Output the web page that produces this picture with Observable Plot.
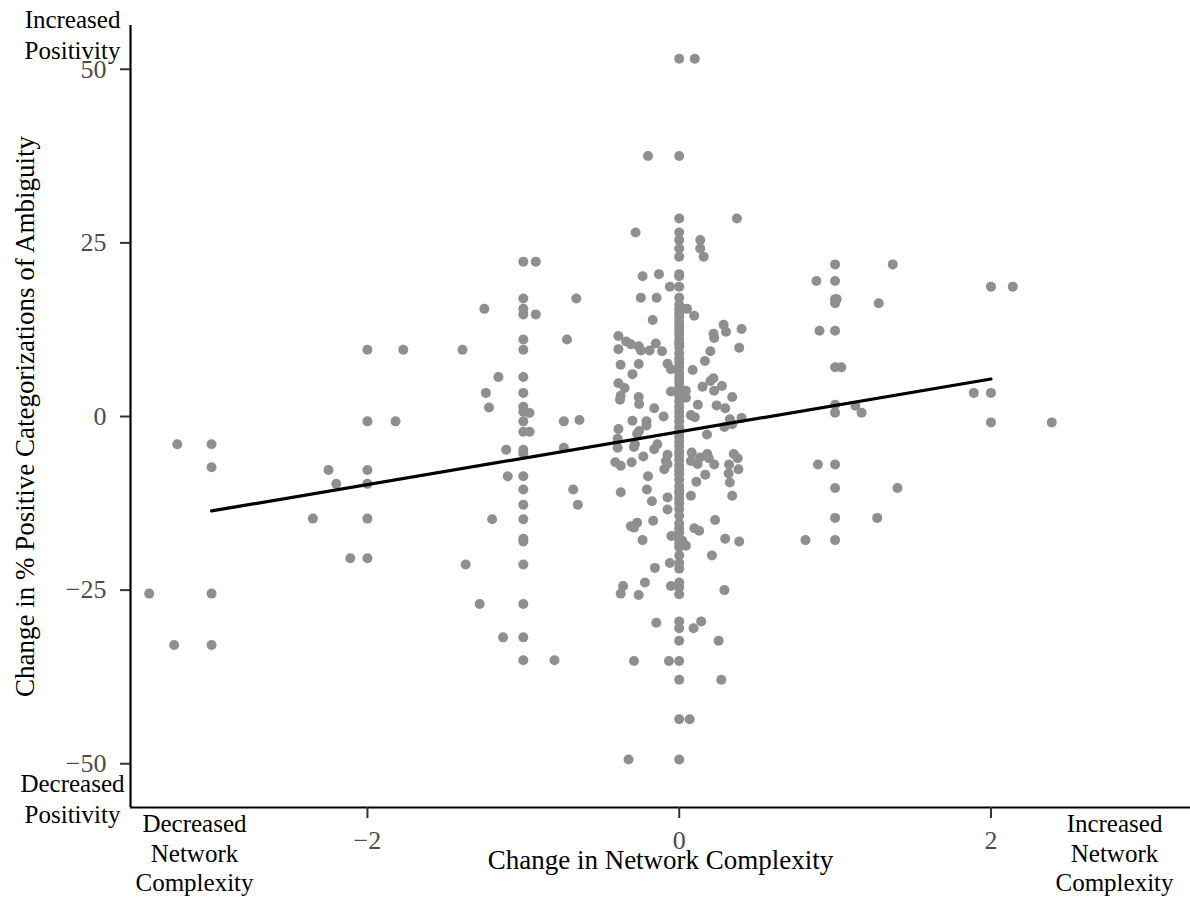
<!DOCTYPE html>
<html>
<head>
<meta charset="utf-8">
<script src="https://cdn.jsdelivr.net/npm/d3@7"></script>
<script src="https://cdn.jsdelivr.net/npm/@observablehq/plot@0.6"></script>
<style>
  html, body { margin: 0; padding: 0; background: #ffffff; }
  #chart svg { display: block; }
</style>
</head>
<body>
<div id="chart"></div>
<script>
// ---------------- data ----------------
const xTicks = [-2, 0, 2];
const yTicks = [-50, -25, 0, 25, 50];
const xDomain = [-3.52, 3.28];
const yDomain = [-56.3, 56.3];

const xTitle = "Change in Network Complexity";
const yTitle = "Change in % Positive Categorizations of Ambiguity";
const noteTop = "Increased\nPositivity";
const noteBottom = "Decreased\nPositivity";
const noteLeft = "Decreased\nNetwork\nComplexity";
const noteRight = "Increased\nNetwork\nComplexity";

// change in network complexity (x) of each participant
const networkChange = [
  // far left
  -3.22, -3.0, -3.0, -2.25, -2.2, -2.0, -2.0, -2.0, -1.82, -2.35, -2.0, -2.11, -2.0, -3.40, -3.0, -3.24, -3.0, -2.0, -1.77,
  // around -1
  -1.0, -0.92, -1.0, -0.66, -1.25, -1.0, -1.0, -0.92, -1.0, -0.72, -1.39, -1.0, -1.16, -1.0, -1.24, -1.0, -1.22, -1.0, -1.0, -0.96,
  -1.0, -0.74, -0.64, -1.0, -0.96, -1.11, -1.0, -1.0, -0.74, -1.10, -1.0, -1.0, -0.68, -1.0, -0.65, -1.2, -1.0, -1.0, -1.0,
  -1.37, -1.0, -1.28, -1.0, -1.13, -1.0, -1.0, -0.80,
  // top centre
  0, 0.10, -0.2, 0, 0, 0.37, -0.28, 0, 0, 0.135, 0, 0.135, 0, 0.157, -0.235, -0.13, 0, 0, -0.06, 0, -0.246, -0.145, 0,
  // around +1 and +2
  1.0, 1.37, 0.88, 1.0, 1.0, 1.01, 1.0, 1.28, 2.0, 2.14, 0.90, 1.0, 1.0, 1.04, 1.0, 1.13, 1.0, 1.17, 1.89, 2.0, 2.0, 2.39,
  0.89, 1.0, 1.0, 1.40, 1.0, 1.27, 0.81, 1.0,
  // centre cloud
  0.096, 0.05, -0.17, 0.285, 0.30, 0.40, 0.22, 0.225, 0.385, 0.20, -0.39, -0.39, -0.34, -0.31, -0.26, -0.245, -0.19, -0.15, -0.11,
  -0.376, -0.30, -0.26, -0.075, -0.053, 0.086, 0.165, 0.20, 0.22, 0.15, 0.224, 0.274, 0.34, -0.39, -0.35, -0.376, -0.38, -0.26,
  -0.257, -0.053, -0.16, -0.10, 0.043, 0.043, 0.12, 0.24, 0.295, 0.075, 0.10, 0.325, 0.40, 0.34, 0.29, -0.39, -0.30, -0.21, -0.21,
  -0.257, -0.27, -0.395, -0.395, -0.29, -0.284, -0.14, -0.16, 0.178, -0.41, -0.375, -0.305, -0.23, -0.075, -0.085, -0.075, -0.096,
  0.08, 0.075, 0.118, 0.133, 0.18, 0.19, 0.225, 0.167, 0.11, 0.35, 0.375, 0.32, 0.38, 0.317, 0.325, 0.34, -0.20, -0.207, -0.175,
  -0.075, -0.075, -0.375, 0.075, -0.31, -0.27, -0.29, -0.167, -0.05, 0.097, 0.128, 0.23, 0.295, 0.385, -0.235, 0.043, 0.02,
  // bottom centre
  0, 0.21, -0.06, 0, 0, -0.156, -0.36, -0.375, -0.22, -0.26, -0.053, 0, 0, 0, 0.29, -0.147, 0, 0, 0.092, 0.141, 0, 0.253,
  -0.29, -0.066, 0, 0, 0.27, 0, 0.067, -0.325, 0,
  // no change column
  0, 0, 0, 0, 0, 0, 0, 0, 0, 0, 0, 0, 0, 0, 0, 0, 0, 0, 0, 0, 0, 0, 0, 0, 0, 0,
  0, 0, 0, 0, 0, 0, 0, 0, 0, 0, 0, 0, 0, 0, 0, 0, 0, 0, 0, 0, 0, 0, 0, 0, 0
];

// change in % positive categorizations (y) of each participant
const positivityChange = [
  // far left
  -4.0, -4.0, -7.3, -7.7, -9.7, -7.7, -9.7, -0.7, -0.7, -14.7, -14.7, -20.4, -20.4, -25.5, -25.5, -32.9, -32.9, 9.6, 9.6,
  // around -1
  22.3, 22.3, 17.0, 17.0, 15.5, 15.5, 14.7, 14.7, 11.1, 11.1, 9.6, 9.6, 5.7, 5.7, 3.4, 3.4, 1.3, 1.4, 0.7, 0.5,
  -0.7, -0.7, -0.5, -2.2, -2.2, -4.8, -4.8, -5.3, -4.5, -8.6, -8.6, -10.5, -10.5, -12.7, -12.7, -14.8, -14.8, -17.6, -18.0,
  -21.3, -21.3, -27.0, -27.0, -31.8, -31.8, -35.1, -35.1,
  // top centre
  51.5, 51.5, 37.5, 37.5, 28.5, 28.5, 26.5, 26.5, 25.4, 25.4, 24.2, 24.2, 23.0, 23.0, 20.2, 20.5, 20.5, 20.2, 18.7, 18.7, 17.1, 17.1, 17.1,
  // around +1 and +2
  21.9, 21.9, 19.5, 19.5, 16.9, 16.9, 16.3, 16.3, 18.7, 18.7, 12.35, 12.35, 7.1, 7.1, 1.7, 1.55, 0.55, 0.55, 3.4, 3.4, -0.85, -0.85,
  -6.9, -6.9, -10.3, -10.3, -14.6, -14.6, -17.8, -17.8,
  // centre cloud
  14.5, 15.5, 13.9, 13.2, 12.2, 12.6, 11.9, 11.3, 9.9, 9.4, 11.6, 9.7, 10.8, 10.4, 10.1, 9.5, 9.5, 10.5, 9.4,
  7.45, 6.1, 7.55, 7.6, 6.8, 6.7, 8.0, 5.1, 5.5, 4.3, 3.7, 4.4, 2.8, 4.8, 4.1, 3.0, 2.4, 2.8,
  1.8, 3.6, 1.2, 0.0, 2.7, 3.7, 1.7, 1.6, 1.2, 0.2, -0.1, -0.4, -0.2, -1.1, -1.5, -1.8, -0.6, -0.7, -1.3,
  -2.1, -2.5, -3.2, -4.5, -4.4, -4.0, -4.0, -4.7, -2.6, -6.6, -7.1, -6.6, -5.75, -5.5, -6.4, -6.85, -7.6,
  -5.2, -6.4, -6.85, -5.9, -5.4, -6.0, -6.9, -8.4, -9.4, -5.4, -6.0, -6.9, -7.6, -8.2, -9.5, -11.4, -8.6, -10.5, -12.2,
  -11.65, -13.4, -10.9, -11.4, -15.8, -15.3, -16.0, -15.0, -17.2, -16.1, -16.45, -14.9, -17.6, -18.0, -17.8, -18.6, -17.9,
  // bottom centre
  -20.0, -20.0, -21.1, -21.1, -21.9, -21.8, -24.4, -25.5, -23.9, -25.7, -24.4, -23.9, -24.6, -25.6, -25.0, -29.7, -29.5, -30.5, -30.5, -29.5, -32.3, -32.3,
  -35.2, -35.2, -35.2, -37.9, -37.9, -43.6, -43.6, -49.4, -49.4,
  // no change column
  16.1, 15.4, 14.8, 14.3, 13.6, 13.0, 12.5, 11.8, 11.1, 10.5, 10.0, 9.1, 8.3, 7.7, 7.1, 6.3, 5.6, 5.0, 4.3, 3.4, 2.9, 2.2, 1.4, 0.7, 0.0, -0.7,
  -1.5, -2.2, -2.9, -3.6, -4.3, -5.0, -5.6, -6.3, -7.1, -7.7, -8.3, -9.1, -10.0, -10.7, -11.1, -11.8, -12.5, -13.3, -14.3, -15.4, -16.1, -16.7, -17.6, -18.2, -18.8
];

// fitted regression line (model prediction over the observed range)
const fitNetwork = [-3, 2];
const fitPositivity = [-13.6, 5.4];

// ---------------- build ----------------
const points = networkChange.map((x, i) => ({x, y: positivityChange[i]}));
const fit = fitNetwork.map((x, i) => ({x, y: fitPositivity[i]}));

const serif = "'Liberation Serif', 'Times New Roman', Times, serif";
const tickColor = "#4d4d4d";
const intFormat = d3.format("d");

const chart = Plot.plot({
  width: 1190,
  height: 905,
  marginLeft: 130,
  marginRight: 0,
  marginTop: 25,
  marginBottom: 98,
  style: {fontFamily: serif, background: "#ffffff", color: "#000000"},
  x: {domain: xDomain},
  y: {domain: yDomain},
  marks: [
    Plot.dot(points, {x: "x", y: "y", r: 5, fill: "#8f8f8f", stroke: null}),
    Plot.line(fit, {x: "x", y: "y", stroke: "#000000", strokeWidth: 3.2}),
    Plot.ruleX([xDomain[0]], {stroke: "#000000", strokeWidth: 2.2}),
    Plot.ruleY([yDomain[0]], {stroke: "#000000", strokeWidth: 2.2}),
    Plot.axisX({ticks: xTicks, tickFormat: intFormat, tickSize: 11, tickPadding: 12, fontSize: 26, fill: tickColor, stroke: "#333333", strokeWidth: 2, label: null}),
    Plot.axisY({ticks: yTicks, tickFormat: intFormat, tickSize: 10, tickPadding: 14, fontSize: 26, fill: tickColor, stroke: "#333333", strokeWidth: 2, label: null}),
    Plot.text([yTitle], {text: d => d, frameAnchor: "left", rotate: -90, dx: -105, textAnchor: "middle", lineAnchor: "middle", fontSize: 27, fill: "#000000"}),
    Plot.text([xTitle], {text: d => d, frameAnchor: "bottom", dy: 61, textAnchor: "middle", lineAnchor: "bottom", fontSize: 27, fill: "#000000"}),
    Plot.text([noteTop], {text: d => d, frameAnchor: "top-left", dx: -58, dy: -19.5, textAnchor: "middle", lineAnchor: "top", fontSize: 25, lineHeight: 1.25, fill: "#000000"}),
    Plot.text([noteBottom], {text: d => d, frameAnchor: "bottom-left", dx: -58, dy: -37.5, textAnchor: "middle", lineAnchor: "top", fontSize: 25, lineHeight: 1.25, fill: "#000000"}),
    Plot.text([noteLeft], {text: d => d, frameAnchor: "bottom-left", dx: 64, dy: 4, textAnchor: "middle", lineAnchor: "top", fontSize: 25, lineHeight: 1.18, fill: "#000000"}),
    Plot.text([noteRight], {text: d => d, frameAnchor: "bottom-right", dx: -76, dy: 4, textAnchor: "middle", lineAnchor: "top", fontSize: 25, lineHeight: 1.18, fill: "#000000"})
  ]
});

document.getElementById("chart").appendChild(chart);
</script>
</body>
</html>
